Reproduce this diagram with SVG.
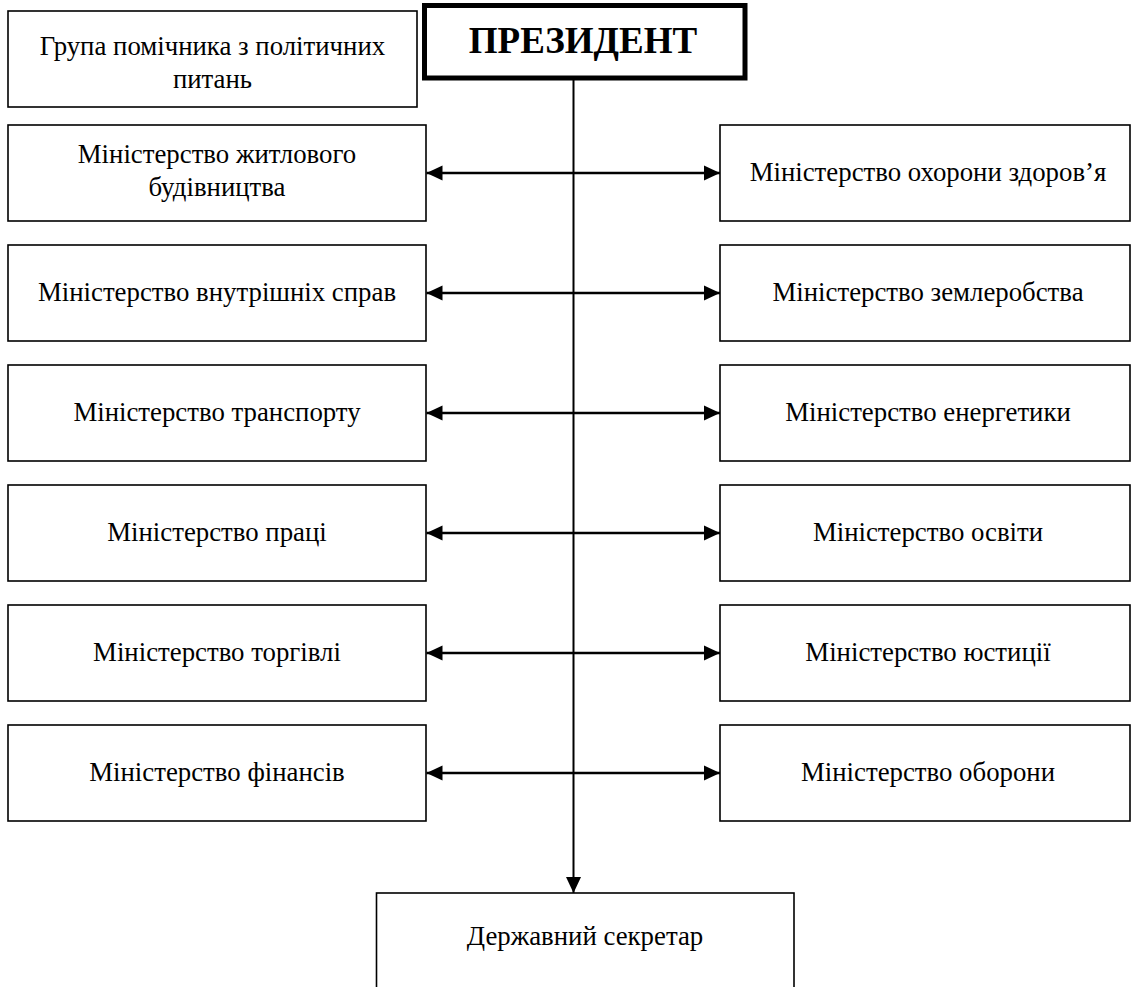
<svg xmlns="http://www.w3.org/2000/svg" width="1132" height="987" viewBox="0 0 1132 987">
  <style>
    .box { fill: #fff; stroke: #000; stroke-width: 1.6; }
    .head { fill: #fff; stroke: #000; stroke-width: 5; }
    .lbl { font-family: "Liberation Serif", "Times New Roman", serif; font-size: 26.8px; fill: #000; text-anchor: middle; }
    .title { font-family: "Liberation Serif", "Times New Roman", serif; font-size: 37px; font-weight: bold; fill: #000; text-anchor: middle; }
    .link { stroke: #000; stroke-width: 2.6; fill: none; }
    .trunk { stroke: #000; stroke-width: 2; fill: none; }
  </style>
  <defs>
    <marker id="tip" markerUnits="userSpaceOnUse" markerWidth="17" markerHeight="16" refX="16" refY="8" orient="auto-start-reverse">
      <path d="M0,0.5 L16,8 L0,15.5 Z" fill="#000"/>
    </marker>
  </defs>

  <rect width="1132" height="987" fill="#fff"/>

  <!-- connectors -->
  <g id="connectors">
    <line class="trunk" x1="573.5" y1="80" x2="573.5" y2="893" marker-end="url(#tip)"/>
    <line class="link" x1="426.5" y1="173" x2="720" y2="173" marker-start="url(#tip)" marker-end="url(#tip)"/>
    <line class="link" x1="426.5" y1="293" x2="720" y2="293" marker-start="url(#tip)" marker-end="url(#tip)"/>
    <line class="link" x1="426.5" y1="413" x2="720" y2="413" marker-start="url(#tip)" marker-end="url(#tip)"/>
    <line class="link" x1="426.5" y1="533" x2="720" y2="533" marker-start="url(#tip)" marker-end="url(#tip)"/>
    <line class="link" x1="426.5" y1="653" x2="720" y2="653" marker-start="url(#tip)" marker-end="url(#tip)"/>
    <line class="link" x1="426.5" y1="773" x2="720" y2="773" marker-start="url(#tip)" marker-end="url(#tip)"/>
  </g>

  <g id="president">
    <rect class="head" x="424.5" y="5.5" width="320.5" height="72.5"/>
    <text class="title" x="583" y="53">ПРЕЗИДЕНТ</text>
  </g>

  <g id="policy-group">
    <rect class="box" x="8" y="11" width="409" height="96"/>
    <text class="lbl" x="212.5" y="55">Група помічника з політичних</text>
    <text class="lbl" x="212.5" y="88">питань</text>
  </g>

  <!-- left column -->
  <g id="housing">
    <rect class="box" x="8" y="125" width="418" height="96"/>
    <text class="lbl" x="217" y="163">Міністерство житлового</text>
    <text class="lbl" x="217" y="196">будівництва</text>
  </g>
  <g id="interior">
    <rect class="box" x="8" y="245" width="418" height="96"/>
    <text class="lbl" x="217" y="301">Міністерство внутрішніх справ</text>
  </g>
  <g id="transport">
    <rect class="box" x="8" y="365" width="418" height="96"/>
    <text class="lbl" x="217" y="421">Міністерство транспорту</text>
  </g>
  <g id="labour">
    <rect class="box" x="8" y="485" width="418" height="96"/>
    <text class="lbl" x="217" y="541">Міністерство праці</text>
  </g>
  <g id="trade">
    <rect class="box" x="8" y="605" width="418" height="96"/>
    <text class="lbl" x="217" y="661">Міністерство торгівлі</text>
  </g>
  <g id="finance">
    <rect class="box" x="8" y="725" width="418" height="96"/>
    <text class="lbl" x="217" y="781">Міністерство фінансів</text>
  </g>

  <!-- right column -->
  <g id="health">
    <rect class="box" x="720" y="125" width="410" height="96"/>
    <text class="lbl" x="928" y="181">Міністерство охорони здоров’я</text>
  </g>
  <g id="agriculture">
    <rect class="box" x="720" y="245" width="410" height="96"/>
    <text class="lbl" x="928" y="301">Міністерство землеробства</text>
  </g>
  <g id="energy">
    <rect class="box" x="720" y="365" width="410" height="96"/>
    <text class="lbl" x="928" y="421">Міністерство енергетики</text>
  </g>
  <g id="education">
    <rect class="box" x="720" y="485" width="410" height="96"/>
    <text class="lbl" x="928" y="541">Міністерство освіти</text>
  </g>
  <g id="justice">
    <rect class="box" x="720" y="605" width="410" height="96"/>
    <text class="lbl" x="928" y="661">Міністерство юстиції</text>
  </g>
  <g id="defence">
    <rect class="box" x="720" y="725" width="410" height="96"/>
    <text class="lbl" x="928" y="781">Міністерство оборони</text>
  </g>

  <g id="secretary">
    <rect class="box" x="376.5" y="893" width="417.5" height="110"/>
    <text class="lbl" x="585" y="945">Державний секретар</text>
  </g>
</svg>
